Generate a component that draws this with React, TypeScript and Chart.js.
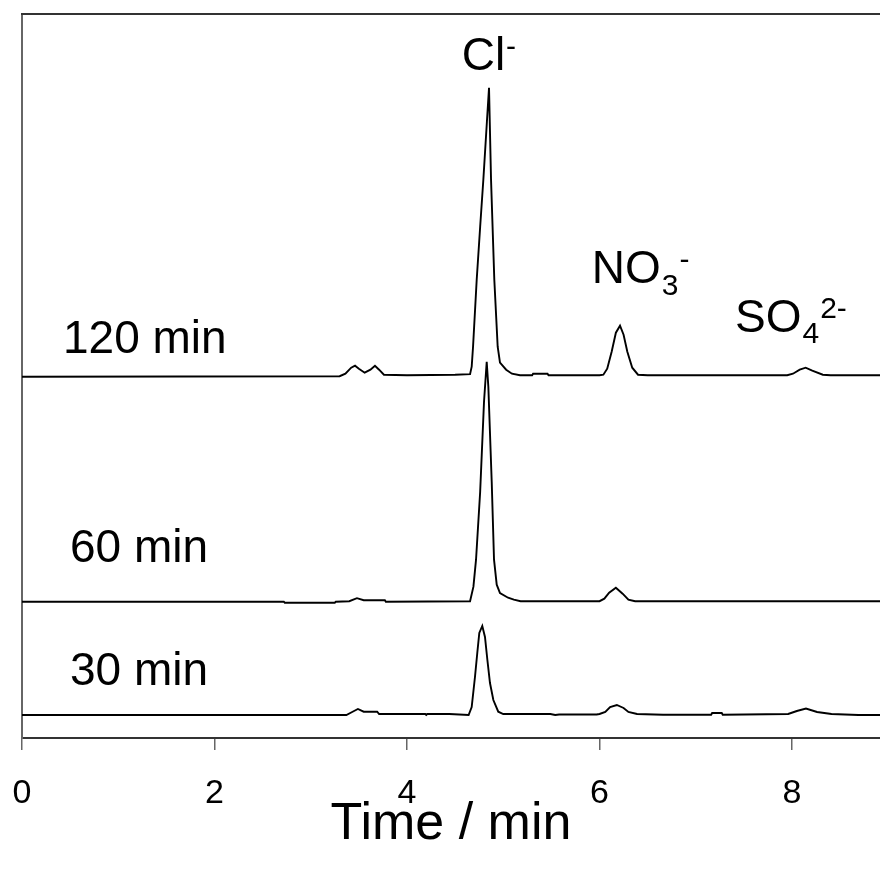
import React, { useEffect, useRef } from "react";
import { Chart, registerables } from "chart.js";

Chart.register(...registerables);

// ---- data (time in min, detector signal in arbitrary units above each trace's baseline) ----
const TRACE_NAMES = ["120 min", "60 min", "30 min"];
const TRACE_BASELINES = [361.3, 136.3, 23];

const TIME_120 = [0, 3.30, 3.36, 3.42, 3.46, 3.50, 3.56, 3.62, 3.667, 3.71, 3.76, 4.00, 4.50, 4.655, 4.672, 4.686, 4.724, 4.76, 4.793, 4.83, 4.852, 4.873, 4.907, 4.942, 4.966, 5.03, 5.09, 5.174, 5.30, 5.31, 5.46, 5.47, 6.00, 6.04, 6.08, 6.126, 6.17, 6.213, 6.25, 6.289, 6.34, 6.40, 6.50, 7.95, 8.01, 8.08, 8.142, 8.21, 8.32, 8.40, 8.92];
const SIGNAL_120 = [0, 0.5, 3, 9, 11, 8, 4, 7, 11, 7, 2, 1.5, 2, 2.5, 10, 30, 97, 150, 197, 255, 289, 197, 97, 30, 14, 7, 3, 1.5, 1.5, 3, 3, 1.5, 1.5, 2, 8, 25, 44, 51, 42, 25, 9, 2, 1.5, 1.5, 3, 7, 9, 6, 2, 1.5, 1.5];

const TIME_60 = [0, 2.72, 2.73, 3.25, 3.26, 3.40, 3.48, 3.55, 3.77, 3.78, 4.655, 4.69, 4.717, 4.76, 4.80, 4.828, 4.845, 4.88, 4.904, 4.932, 4.966, 5.05, 5.11, 5.18, 6.00, 6.05, 6.10, 6.17, 6.24, 6.30, 6.37, 8.92];
const SIGNAL_60 = [0, 0, -1, -1, 0, 0.5, 3.5, 1.5, 1.5, 0, 0.5, 15, 42, 110, 200, 240, 215, 120, 42, 17, 8.7, 4, 2, 0.5, 0.5, 3, 9, 14, 8, 2, 0.5, 0.5];

const TIME_30 = [0, 3.37, 3.43, 3.49, 3.55, 3.69, 3.71, 4.19, 4.20, 4.21, 4.44, 4.64, 4.672, 4.706, 4.730, 4.751, 4.782, 4.81, 4.835, 4.862, 4.897, 4.948, 5.00, 5.49, 5.54, 5.58, 5.97, 6.00, 6.06, 6.11, 6.18, 6.25, 6.30, 6.39, 6.66, 7.16, 7.17, 7.27, 7.28, 7.96, 8.05, 8.145, 8.26, 8.41, 8.69, 8.92];
const SIGNAL_30 = [0, 0, 3, 6, 3.3, 3.3, 1, 1, 0, 1, 1, 0, 8, 38, 62, 82, 89, 78, 55, 32, 15, 3.3, 1, 1, 0, 0.5, 0.5, 1, 3, 8, 10, 7, 3, 1, 0.3, 0.3, 2, 2, 0.3, 1, 4, 6.5, 3, 1, 0, 0];

const X_TICKS = [0, 2, 4, 6, 8];
const X_MIN = 0;
const X_MAX = 8.914;
const Y_MIN = 0;
const Y_MAX = 724;

// label anchors (time, signal) for trace names
const TRACE_LABEL_TIME = [0.426, 0.499, 0.499];
const TRACE_LABEL_SIGNAL = [385, 176, 53];

const FONT = "'Liberation Sans', Arial, Helvetica, sans-serif";

type Part = { text: string; kind: "n" | "sub" | "sup" };
const ION_LABELS: { t: number; v: number; parts: Part[] }[] = [
  { t: 4.568, v: 668, parts: [{ text: "Cl", kind: "n" }, { text: "-", kind: "sup" }] },
  { t: 5.919, v: 454.7, parts: [{ text: "NO", kind: "n" }, { text: "3", kind: "sub" }, { text: "-", kind: "sup" }] },
  { t: 7.408, v: 406.3, parts: [{ text: "SO", kind: "n" }, { text: "4", kind: "sub" }, { text: "2-", kind: "sup" }] },
];

const series = [
  { time: TIME_120, signal: SIGNAL_120 },
  { time: TIME_60, signal: SIGNAL_60 },
  { time: TIME_30, signal: SIGNAL_30 },
];

const annotationPlugin = {
  id: "annot",
  afterDraw(chart: any) {
    const { ctx, chartArea, scales } = chart;
    const xs = scales.x;
    const ys = scales.y;
    ctx.save();
    // top frame line
    ctx.strokeStyle = "#333";
    ctx.lineWidth = 2;
    ctx.beginPath();
    ctx.moveTo(chartArea.left - 1, chartArea.top);
    ctx.lineTo(chartArea.right, chartArea.top);
    ctx.stroke();

    ctx.fillStyle = "#000";
    ctx.textBaseline = "alphabetic";
    ctx.textAlign = "left";
    ctx.font = `46px ${FONT}`;
    TRACE_NAMES.forEach((name, i) => {
      ctx.fillText(name, xs.getPixelForValue(TRACE_LABEL_TIME[i]), ys.getPixelForValue(TRACE_LABEL_SIGNAL[i]));
    });
    ION_LABELS.forEach((lab) => {
      let x = xs.getPixelForValue(lab.t);
      const y = ys.getPixelForValue(lab.v);
      lab.parts.forEach((p) => {
        if (p.kind === "n") {
          ctx.font = `46px ${FONT}`;
          ctx.fillText(p.text, x, y);
          x += ctx.measureText(p.text).width;
        } else if (p.kind === "sub") {
          ctx.font = `30px ${FONT}`;
          ctx.fillText(p.text, x + 1, y + 11.5);
          x += ctx.measureText(p.text).width + 1;
        } else {
          ctx.font = `30px ${FONT}`;
          ctx.fillText(p.text, x + 1, y - 14);
          x += ctx.measureText(p.text).width + 1;
        }
      });
    });
    ctx.restore();
  },
};

export default function App() {
  const ref = useRef<HTMLCanvasElement | null>(null);
  useEffect(() => {
    if (!ref.current) return;
    const datasets = series.map((s, i) => ({
      label: TRACE_NAMES[i],
      data: s.time.map((t, j) => ({ x: t, y: s.signal[j] + TRACE_BASELINES[i] })),
      borderColor: "#000",
      borderWidth: 1.9,
      pointRadius: 0,
      tension: 0,
      fill: false,
    }));
    const chart = new Chart(ref.current, {
      type: "line",
      data: { datasets },
      plugins: [annotationPlugin],
      options: {
        animation: false,
        responsive: false,
        maintainAspectRatio: false,
        layout: { padding: { top: 14, left: 0, right: 0, bottom: 0 } },
        plugins: { legend: { display: false }, tooltip: { enabled: false } },
        scales: {
          x: {
            type: "linear",
            min: X_MIN,
            max: X_MAX,
            afterBuildTicks: (scale: any) => {
              scale.ticks = X_TICKS.map((v) => ({ value: v }));
            },
            afterFit: (scale: any) => {
              scale.height = 134;
              scale.paddingLeft = 0;
              scale.paddingRight = 0;
            },
            ticks: {
              color: "#000",
              font: { family: FONT, size: 34 },
              padding: 23,
              maxRotation: 0,
              autoSkip: false,
              callback: (v: any) => String(v),
            },
            grid: {
              display: true,
              drawOnChartArea: false,
              drawTicks: true,
              tickLength: 12,
              color: "#666",
              lineWidth: 1.5,
            },
            border: { display: true, color: "#333", width: 2 },
            title: {
              display: true,
              text: "Time / min",
              color: "#000",
              font: { family: FONT, size: 52 },
              padding: { top: 16, bottom: 16 },
            },
          },
          y: {
            type: "linear",
            min: Y_MIN,
            max: Y_MAX,
            afterFit: (scale: any) => {
              scale.width = 22;
            },
            ticks: { display: false },
            grid: { display: false, drawTicks: false },
            border: { display: true, color: "#666", width: 2 },
          },
        },
      },
    });
    return () => chart.destroy();
  }, []);
  return (
    <div style={{ position: "absolute", left: 0, top: 0, width: 880, height: 872, background: "#fff" }}>
      <canvas ref={ref} width={880} height={872} style={{ width: 880, height: 872, display: "block" }} />
    </div>
  );
}
